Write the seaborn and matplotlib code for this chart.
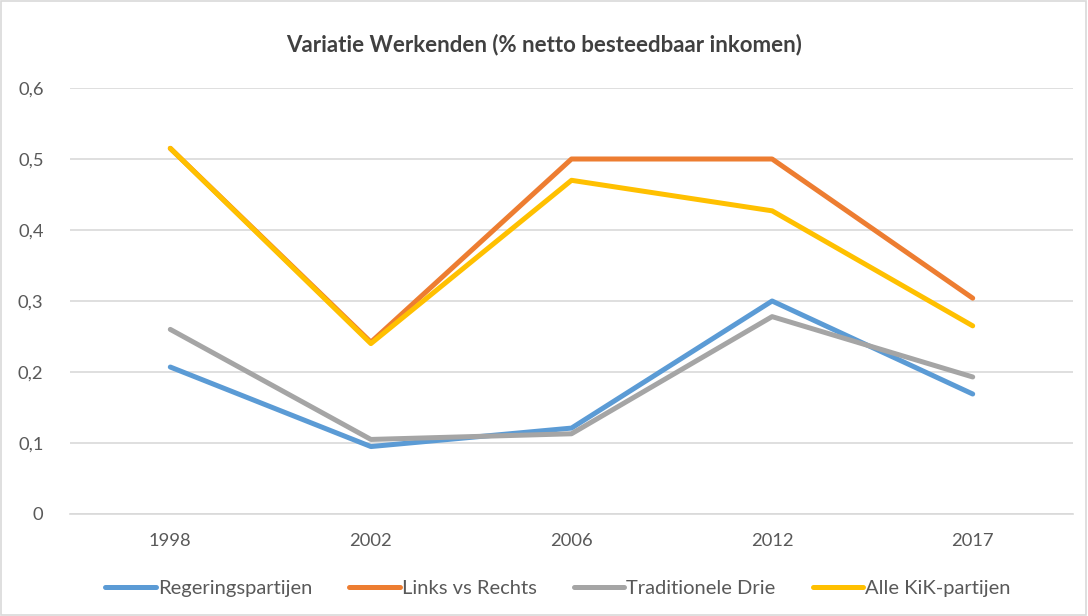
import numpy as np
import pandas as pd
import matplotlib
matplotlib.use("Agg")
import matplotlib.pyplot as plt
import seaborn as sns
from matplotlib.patches import Rectangle

years = ["1998", "2002", "2006", "2012", "2017"]
regeringspartijen = [0.207, 0.095, 0.121, 0.300, 0.169]
links_vs_rechts = [0.515, 0.242, 0.500, 0.500, 0.304]
traditionele_drie = [0.260, 0.105, 0.113, 0.278, 0.193]
alle_kik = [0.515, 0.240, 0.470, 0.427, 0.265]

series_names = ["Regeringspartijen", "Links vs Rechts", "Traditionele Drie", "Alle KiK-partijen"]
series_values = [regeringspartijen, links_vs_rechts, traditionele_drie, alle_kik]
colors = ["#5B9BD5", "#ED7D31", "#A5A5A5", "#FFC000"]
yticks = [0, 0.1, 0.2, 0.3, 0.4, 0.5, 0.6]
ytick_labels = ["0", "0,1", "0,2", "0,3", "0,4", "0,5", "0,6"]
title = "Variatie Werkenden (% netto besteedbaar inkomen)"

df = pd.DataFrame({
    "jaar": np.tile(years, len(series_names)),
    "waarde": np.concatenate(series_values),
    "reeks": np.repeat(series_names, len(years)),
})

sns.set_theme(style="white")
plt.rcParams["font.family"] = ["Lato", "DejaVu Sans"]

fig = plt.figure(figsize=(10.88, 6.16), dpi=100)
ax = fig.add_axes([70 / 1088, 1 - 514 / 616, 1003 / 1088, (514 - 88) / 616])

sns.lineplot(data=df, x="jaar", y="waarde", hue="reeks", hue_order=series_names,
             palette=colors, linewidth=3.6, sort=False, ax=ax,
             solid_capstyle="round", solid_joinstyle="round")

ax.set_xlim(-0.5, 4.5)
ax.set_ylim(0, 0.6)
ax.set_yticks(yticks)
ax.set_yticklabels(ytick_labels)
ax.yaxis.grid(True, color="#D9D9D9", linewidth=1.2)
ax.set_axisbelow(True)
for s in ["top", "right", "left"]:
    ax.spines[s].set_visible(False)
ax.spines["bottom"].set_color("#D9D9D9")
ax.spines["bottom"].set_linewidth(1.2)
ax.tick_params(axis="both", length=0, labelsize=13.2, colors="#595959")
ax.tick_params(axis="y", pad=19)
ax.tick_params(axis="x", pad=14)
ax.set_xlabel("")
ax.set_ylabel("")

fig.text(0.5, 1 - 45 / 616, title, ha="center", va="center", fontsize=16,
         fontweight="bold", color="#404040")

handles, labels = ax.get_legend_handles_labels()
ax.legend(handles, labels, loc="center", bbox_to_anchor=(558 / 1088, (616 - 588) / 616),
          bbox_transform=fig.transFigure, ncol=4, frameon=False, fontsize=14.5,
          labelcolor="#595959", handlelength=2.5, handletextpad=0.1, columnspacing=1.85)

fig.patches.append(Rectangle((0.001, 0.001), 0.997, 0.997, transform=fig.transFigure,
                             fill=False, edgecolor="#D9D9D9", linewidth=1.2))

fig.savefig("out.png", dpi=100, facecolor="white")
